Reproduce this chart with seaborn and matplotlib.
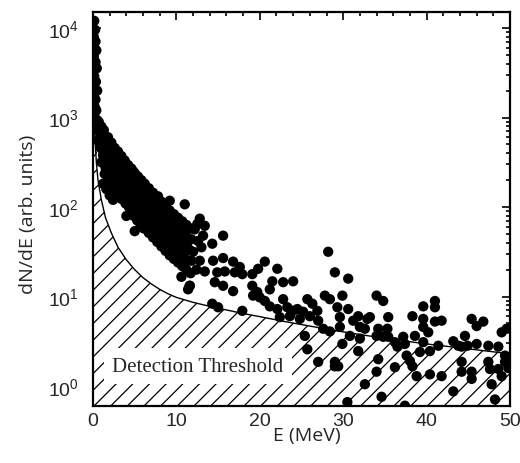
import numpy as np
import pandas as pd
import matplotlib
matplotlib.use("Agg")
import matplotlib.pyplot as plt
import seaborn as sns
from matplotlib.ticker import LogLocator, MultipleLocator, NullFormatter

sns.set_style("ticks")
plt.rcParams['font.family'] = ['Liberation Sans', 'DejaVu Sans']
plt.rcParams['mathtext.default'] = 'regular'
plt.rcParams['hatch.linewidth'] = 0.9

# ---- data: (E in MeV, log10 dN/dE) ----
near_zero = [
    (0.15, 4.08), (0.25, 3.98), (0.1, 3.9), (0.3, 3.85), (0.2, 3.77), (0.1, 3.68),
    (0.3, 3.62), (0.2, 3.55), (0.15, 3.46), (0.35, 3.4), (0.2, 3.33), (0.1, 3.25),
    (0.3, 3.2), (0.2, 3.12), (0.4, 3.08), (0.15, 3.02), (0.3, 2.98), (0.0, 2.95),
    (0.5, 2.97), (0.45, 2.9), (0.6, 2.88), (0.5, 3.3), (0.45, 3.55), (0.4, 3.75),
]

band = [
    (0.7, 2.95), (0.8, 2.84), (0.6, 2.74), (0.9, 2.66),
    (1.0, 2.9), (0.9, 2.79), (1.1, 2.7), (1.2, 2.58), (1.0, 2.5),
    (1.3, 2.86), (1.4, 2.75), (1.5, 2.64), (1.3, 2.53), (1.5, 2.44), (1.4, 2.37),
    (1.8, 2.78), (1.7, 2.68), (1.9, 2.57), (1.7, 2.47), (1.9, 2.37), (1.8, 2.3),
    (2.2, 2.72), (2.1, 2.62), (2.3, 2.52), (2.0, 2.42), (2.2, 2.32), (2.3, 2.23),
    (2.6, 2.66), (2.5, 2.56), (2.7, 2.47), (2.5, 2.36), (2.7, 2.26), (2.6, 2.17),
    (3.0, 2.62), (2.9, 2.52), (3.1, 2.42), (3.0, 2.32), (2.9, 2.22), (3.1, 2.13),
    (3.4, 2.57), (3.3, 2.47), (3.5, 2.38), (3.3, 2.28), (3.5, 2.18), (3.4, 2.09),
    (3.8, 2.52), (3.7, 2.43), (3.9, 2.33), (3.8, 2.23), (3.7, 2.13), (3.9, 2.04),
    (4.2, 2.47), (4.1, 2.38), (4.3, 2.29), (4.2, 2.19), (4.1, 2.09), (4.3, 2.0),
    (4.6, 2.43), (4.5, 2.34), (4.7, 2.24), (4.6, 2.14), (4.5, 2.04), (4.7, 1.95),
    (5.0, 2.38), (5.1, 2.29), (4.9, 2.19), (5.1, 2.09), (5.0, 1.99), (4.9, 1.9),
    (5.4, 2.34), (5.5, 2.24), (5.3, 2.14), (5.5, 2.04), (5.4, 1.94), (5.3, 1.85),
    (5.8, 2.3), (5.9, 2.2), (5.7, 2.1), (5.9, 2.0), (5.8, 1.9), (5.7, 1.8),
    (6.2, 2.26), (6.3, 2.16), (6.1, 2.06), (6.3, 1.96), (6.2, 1.86), (6.1, 1.76),
    (6.7, 2.21), (6.6, 2.11), (6.8, 2.01), (6.6, 1.91), (6.8, 1.81), (6.7, 1.71),
    (7.2, 2.16), (7.1, 2.06), (7.3, 1.96), (7.1, 1.86), (7.3, 1.76), (7.2, 1.66),
    (7.7, 2.11), (7.6, 2.01), (7.8, 1.91), (7.6, 1.81), (7.8, 1.71), (7.7, 1.61),
    (8.2, 2.06), (8.1, 1.96), (8.3, 1.86), (8.1, 1.76), (8.3, 1.66), (8.2, 1.56),
    (8.7, 2.01), (8.6, 1.91), (8.8, 1.81), (8.6, 1.71), (8.8, 1.61), (8.7, 1.51),
    (9.2, 1.96), (9.1, 1.86), (9.3, 1.76), (9.1, 1.66), (9.3, 1.56), (9.2, 1.46),
    (9.7, 1.92), (9.6, 1.82), (9.8, 1.72), (9.6, 1.62), (9.8, 1.52), (9.7, 1.42),
    (10.2, 1.88), (10.1, 1.78), (10.3, 1.68), (10.1, 1.58), (10.3, 1.48), (10.2, 1.38),
    (10.7, 1.84), (10.6, 1.74), (10.8, 1.64), (10.6, 1.54), (10.8, 1.44), (10.7, 1.34),
    (11.2, 1.8), (11.1, 1.7), (11.3, 1.6), (11.1, 1.5), (11.3, 1.4), (11.2, 1.3),
    (11.7, 1.76), (11.8, 1.64), (11.6, 1.52), (11.8, 1.4), (11.7, 1.26), (11.6, 1.12),
    (12.2, 1.75), (12.6, 1.62), (12.0, 1.5), (12.8, 1.4), (12.4, 1.3), (13.0, 1.55),
    (13.2, 1.68), (1.2, 2.26), (1.6, 2.2), (2.0, 2.13), (2.4, 2.08),
]

band_outliers = [
    (4.8, 2.40), (5.6, 2.29), (6.4, 2.20), (7.8, 2.12), (9.2, 2.07), (11.0, 2.03),
    (12.8, 1.87), (10.6, 1.22), (11.4, 1.08), (4.0, 1.90), (5.0, 1.73),
]

tail = [
    (15.6, 1.68), (14.3, 1.59), (12.5, 1.81), (13.4, 1.79), (15.6, 1.43), (16.8, 1.39),
    (17.6, 1.33), (14.4, 1.40), (13.4, 1.28), (14.9, 1.27), (15.8, 1.28), (17.0, 1.27),
    (17.9, 1.25), (19.1, 1.25), (19.8, 1.31), (20.6, 1.39), (22.1, 1.31), (21.5, 1.17),
    (22.8, 1.16), (24.0, 1.17), (14.6, 1.16), (15.6, 1.12), (16.8, 1.06), (19.1, 1.12),
    (19.7, 1.05), (20.0, 0.99), (19.2, 1.01), (21.2, 1.08), (20.6, 0.95), (21.2, 0.89),
    (22.1, 0.86), (22.8, 0.97), (23.3, 0.88), (24.0, 0.84), (24.5, 0.86), (25.2, 0.83),
    (25.7, 0.97), (26.3, 0.92), (26.9, 0.84), (23.6, 0.78), (22.4, 0.77), (24.8, 0.75),
    (26.0, 0.78), (27.0, 0.73), (27.8, 1.01), (28.2, 1.50), (29.0, 1.27), (28.4, 0.97),
    (29.3, 0.88), (27.6, 0.64), (28.4, 0.61), (25.4, 0.56), (25.7, 0.41), (27.0, 0.27),
    (29.0, 0.27), (29.0, 0.22), (14.3, 0.92), (15.0, 0.88), (17.9, 0.84), (11.6, 1.12),
    (30.6, 1.20), (29.9, 1.01), (30.6, 0.86), (29.6, 0.77), (29.6, 0.66), (31.2, 0.73),
    (31.8, 0.78), (32.0, 0.66), (32.9, 0.75), (33.2, 0.77), (32.6, 0.64), (30.8, 0.56),
    (32.0, 0.53), (29.9, 0.47), (31.8, 0.39), (34.0, 1.01), (34.8, 0.95), (34.2, 0.64),
    (35.3, 0.64), (35.4, 0.77), (34.0, 0.56), (34.8, 0.55), (35.4, 0.55), (36.2, 0.49),
    (36.5, 0.44), (34.2, 0.30), (36.2, 0.21), (34.0, 0.16), (32.6, 0.02), (34.6, -0.12),
    (30.5, -0.18), (29.4, 0.22), (37.2, 0.55), (37.4, 0.47), (37.6, 0.34), (38.0, 0.28),
    (38.3, 0.22), (38.6, 0.56), (38.8, 0.11), (38.3, 0.78), (37.4, -0.22), (39.6, 0.89),
    (39.6, 0.75), (39.6, 0.66), (40.2, 0.60), (41.0, 0.95), (41.0, 0.88), (41.0, 0.72),
    (41.8, 0.73), (40.4, 0.39), (39.6, 0.49), (39.2, 0.38), (40.4, 0.13), (41.8, 0.11),
    (41.4, 0.45), (43.2, 0.50), (43.8, 0.45), (44.2, 0.44), (44.6, 0.56), (45.4, 0.75),
    (46.0, 0.67), (46.8, 0.72), (44.9, 0.45), (46.0, 0.47), (47.4, 0.45), (48.6, 0.44),
    (49.0, 0.60), (49.6, 0.64), (44.2, 0.27), (44.2, 0.16), (45.4, 0.16), (45.4, 0.08),
    (47.4, 0.27), (47.6, 0.19), (48.6, 0.19), (49.0, 0.11), (49.4, 0.27), (49.4, 0.34),
    (43.2, -0.06), (48.2, -0.15), (47.8, 0.02), (49.8, 0.30), (49.8, 0.20),
]

threshold_E = [0.05, 0.15, 0.25, 0.4, 0.6, 1.0, 1.5, 2.2, 3.0, 4.0, 5.0, 6.0, 7.0, 8.0,
               9.0, 10.0, 12.0, 14.0, 16.0, 18.0, 20.0, 23.0, 26.0, 29.0, 32.0, 36.0,
               40.0, 45.0, 50.0]
threshold_logN = [3.0, 2.9, 2.75, 2.5, 2.3, 2.08, 1.88, 1.71, 1.55, 1.41, 1.30, 1.21, 1.14,
                  1.08, 1.03, 0.99, 0.935, 0.89, 0.85, 0.81, 0.775, 0.72, 0.67, 0.62,
                  0.575, 0.52, 0.47, 0.415, 0.36]

x_ticks = [0, 10, 20, 30, 40, 50]
label_text = "Detection Threshold"

# ---- build frames ----
pts = near_zero + band + band_outliers + tail
df = pd.DataFrame(pts, columns=["E", "logN"])
df["dNdE"] = 10.0 ** df["logN"]
thr = pd.DataFrame({"E": threshold_E, "dNdE": 10.0 ** np.array(threshold_logN)})

fig = plt.figure(figsize=(5.2, 4.64), dpi=100)
ax = fig.add_axes([93 / 520, 57 / 464, 417 / 520, 394 / 464])

ax.fill_between(thr["E"], thr["dNdE"], 1e-3, facecolor="white", edgecolor="black",
                hatch="//", linewidth=0, zorder=1)
sns.lineplot(data=thr, x="E", y="dNdE", color="black", lw=1.0, ax=ax,
             sort=False, estimator=None, zorder=2)
ax.text(12.6, 10 ** 0.22, label_text, family="Liberation Serif", fontsize=15,
        ha="center", va="center", zorder=2.5,
        bbox=dict(boxstyle="square,pad=0.4", fc="white", ec="none"))
sns.scatterplot(data=df, x="E", y="dNdE", color="black", s=55, edgecolor="none",
                ax=ax, zorder=3, legend=False)

ax.set_yscale("log")
ax.set_xlim(0, 50)
ax.set_ylim(0.598, 15100)

ax.set_xticks(x_ticks)
ax.xaxis.set_minor_locator(MultipleLocator(2))
ax.yaxis.set_major_locator(LogLocator(base=10, numticks=10))
ax.yaxis.set_minor_locator(LogLocator(base=10, subs=np.arange(2, 10), numticks=10))
ax.yaxis.set_minor_formatter(NullFormatter())

ax.tick_params(which="both", direction="in", top=True, right=True, width=1.2, color="black")
ax.tick_params(which="major", length=6)
ax.tick_params(which="minor", length=3)
ax.tick_params(axis="y", which="major", pad=10, labelsize=14)
ax.tick_params(axis="x", which="major", pad=4, labelsize=14)
for sp in ax.spines.values():
    sp.set_linewidth(1.6)
    sp.set_color("black")
    sp.set_visible(True)

ax.set_xlabel("E (MeV)", family="Open Sans", fontsize=14)
ax.set_ylabel("dN/dE (arb. units)", family="Open Sans", fontsize=14)
ax.xaxis.set_label_coords(0.513, -0.05)
ax.yaxis.set_label_coords(-0.134, 0.49)

fig.savefig("out.png", dpi=100)
